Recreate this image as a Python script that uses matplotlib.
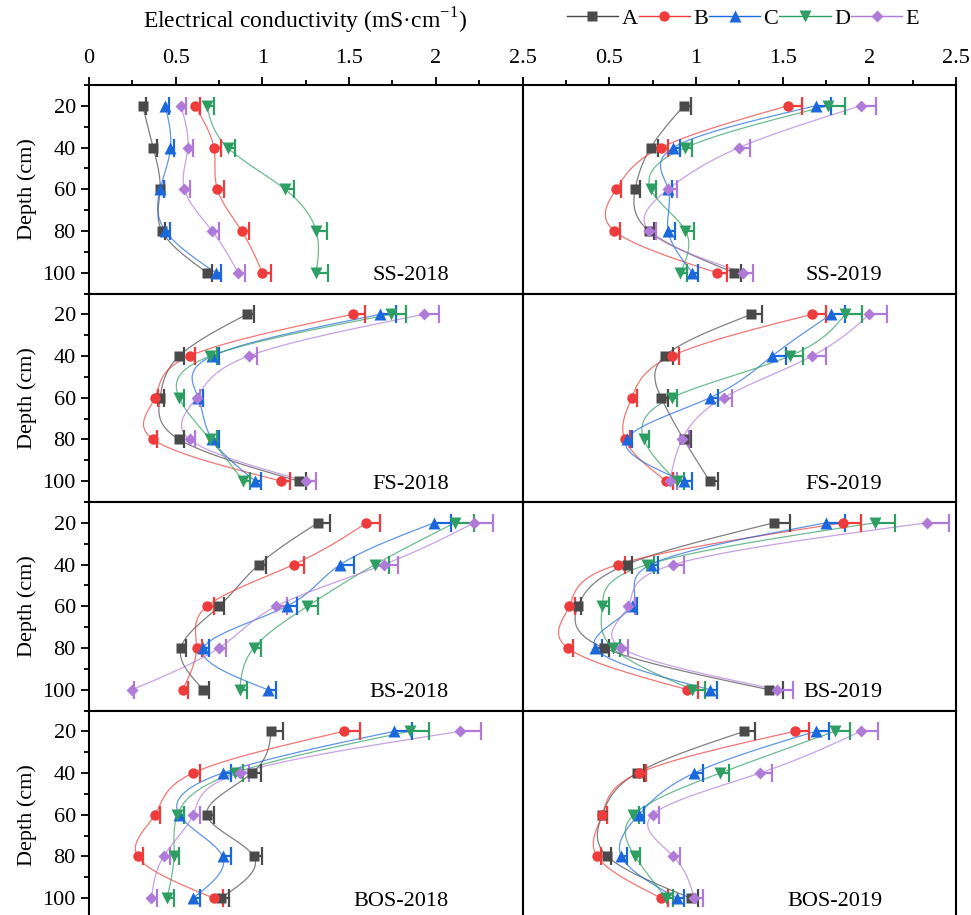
import numpy as np
import matplotlib
matplotlib.use("Agg")
import matplotlib.pyplot as plt
from matplotlib.lines import Line2D
from matplotlib.ticker import MultipleLocator, FixedLocator, FuncFormatter

plt.rcParams['font.family'] = ['Liberation Serif', 'DejaVu Serif']
plt.rcParams['mathtext.fontset'] = 'custom'
plt.rcParams['mathtext.rm'] = 'Liberation Serif'
plt.rcParams['font.size'] = 16

depth = [20, 40, 60, 80, 100]
treatments = ['A', 'B', 'C', 'D', 'E']
colors = ['#4a4a4a', '#ee3b3b', '#1b68dc', '#2f9e63', '#b07ad9']
markers = ['s', 'o', '^', 'v', 'D']
msizes = [7, 7.5, 8, 8, 6.5]

# EC means and SE, one row per treatment (A..E), columns = depth
ss2018 = [[0.31, 0.37, 0.41, 0.42, 0.68],
          [0.61, 0.72, 0.74, 0.88, 1.00],
          [0.44, 0.47, 0.41, 0.44, 0.73],
          [0.68, 0.80, 1.13, 1.31, 1.31],
          [0.53, 0.57, 0.55, 0.71, 0.86]]
ss2018_se = [[0.02, 0.02, 0.02, 0.02, 0.03],
             [0.03, 0.04, 0.04, 0.04, 0.05],
             [0.02, 0.02, 0.02, 0.03, 0.03],
             [0.04, 0.04, 0.05, 0.06, 0.07],
             [0.03, 0.03, 0.03, 0.04, 0.04]]

ss2019 = [[0.93, 0.74, 0.65, 0.73, 1.22],
          [1.53, 0.80, 0.54, 0.53, 1.12],
          [1.69, 0.87, 0.84, 0.84, 0.98],
          [1.76, 0.94, 0.74, 0.94, 0.91],
          [1.95, 1.25, 0.84, 0.73, 1.27]]
ss2019_se = [[0.04, 0.04, 0.03, 0.03, 0.04],
             [0.08, 0.04, 0.03, 0.03, 0.06],
             [0.09, 0.04, 0.02, 0.04, 0.03],
             [0.10, 0.04, 0.03, 0.05, 0.04],
             [0.09, 0.06, 0.05, 0.04, 0.06]]

fs2018 = [[0.91, 0.52, 0.41, 0.52, 1.21],
          [1.52, 0.58, 0.38, 0.37, 1.11],
          [1.68, 0.71, 0.63, 0.71, 0.96],
          [1.74, 0.70, 0.52, 0.70, 0.89],
          [1.93, 0.92, 0.62, 0.58, 1.25]]
fs2018_se = [[0.04, 0.03, 0.02, 0.03, 0.04],
             [0.07, 0.03, 0.02, 0.02, 0.05],
             [0.09, 0.04, 0.03, 0.04, 0.03],
             [0.09, 0.04, 0.03, 0.04, 0.04],
             [0.09, 0.05, 0.02, 0.03, 0.06]]

fs2019 = [[1.32, 0.82, 0.80, 0.93, 1.08],
          [1.67, 0.86, 0.63, 0.59, 0.83],
          [1.78, 1.44, 1.08, 0.60, 0.93],
          [1.86, 1.54, 0.86, 0.70, 0.89],
          [2.00, 1.67, 1.16, 0.92, 0.85]]
fs2019_se = [[0.06, 0.05, 0.04, 0.04, 0.05],
             [0.08, 0.04, 0.03, 0.03, 0.04],
             [0.08, 0.08, 0.05, 0.03, 0.05],
             [0.10, 0.08, 0.03, 0.03, 0.04],
             [0.10, 0.08, 0.05, 0.04, 0.04]]

bs2018 = [[1.32, 0.98, 0.75, 0.53, 0.66],
          [1.60, 1.18, 0.68, 0.62, 0.54],
          [1.99, 1.45, 1.14, 0.66, 1.03],
          [2.11, 1.65, 1.26, 0.95, 0.87],
          [2.22, 1.70, 1.08, 0.75, 0.25]]
bs2018_se = [[0.07, 0.04, 0.03, 0.03, 0.03],
             [0.08, 0.06, 0.04, 0.03, 0.03],
             [0.10, 0.08, 0.06, 0.03, 0.05],
             [0.11, 0.08, 0.06, 0.04, 0.04],
             [0.11, 0.08, 0.06, 0.04, 0.01]]

bs2019 = [[1.45, 0.60, 0.32, 0.47, 1.42],
          [1.85, 0.55, 0.27, 0.26, 0.95],
          [1.75, 0.74, 0.63, 0.42, 1.08],
          [2.03, 0.72, 0.46, 0.52, 0.98],
          [2.33, 0.87, 0.61, 0.57, 1.47]]
bs2019_se = [[0.09, 0.03, 0.02, 0.03, 0.08],
             [0.10, 0.04, 0.03, 0.03, 0.06],
             [0.11, 0.04, 0.03, 0.04, 0.04],
             [0.12, 0.04, 0.04, 0.04, 0.07],
             [0.13, 0.06, 0.04, 0.04, 0.09]]

bos2018 = [[1.05, 0.94, 0.68, 0.95, 0.76],
           [1.47, 0.60, 0.38, 0.28, 0.72],
           [1.76, 0.77, 0.52, 0.77, 0.60],
           [1.85, 0.84, 0.51, 0.49, 0.45],
           [2.14, 0.87, 0.60, 0.43, 0.36]]
bos2018_se = [[0.07, 0.05, 0.04, 0.05, 0.05],
              [0.09, 0.04, 0.03, 0.03, 0.05],
              [0.10, 0.05, 0.03, 0.05, 0.04],
              [0.11, 0.05, 0.04, 0.03, 0.04],
              [0.12, 0.05, 0.04, 0.04, 0.03]]

bos2019 = [[1.28, 0.66, 0.46, 0.49, 0.97],
           [1.57, 0.67, 0.46, 0.43, 0.80],
           [1.69, 0.99, 0.67, 0.57, 0.89],
           [1.80, 1.14, 0.64, 0.65, 0.83],
           [1.95, 1.37, 0.75, 0.87, 0.99]]
bos2019_se = [[0.06, 0.04, 0.03, 0.02, 0.04],
              [0.08, 0.04, 0.03, 0.02, 0.04],
              [0.08, 0.05, 0.03, 0.03, 0.04],
              [0.09, 0.05, 0.03, 0.03, 0.04],
              [0.10, 0.07, 0.04, 0.04, 0.05]]

panels = [('SS-2018', ss2018, ss2018_se), ('SS-2019', ss2019, ss2019_se),
          ('FS-2018', fs2018, fs2018_se), ('FS-2019', fs2019, fs2019_se),
          ('BS-2018', bs2018, bs2018_se), ('BS-2019', bs2019, bs2019_se),
          ('BOS-2018', bos2018, bos2018_se), ('BOS-2019', bos2019, bos2019_se)]


def natural_spline(t, v, n=80):
    # natural cubic spline of v as a function of t, for the connecting curves
    t = np.asarray(t, float)
    v = np.asarray(v, float)
    k = len(t)
    h = np.diff(t)
    A = np.zeros((k, k))
    r = np.zeros(k)
    A[0, 0] = A[-1, -1] = 1
    for i in range(1, k - 1):
        A[i, i - 1] = h[i - 1]
        A[i, i] = 2 * (h[i - 1] + h[i])
        A[i, i + 1] = h[i]
        r[i] = 6 * ((v[i + 1] - v[i]) / h[i] - (v[i] - v[i - 1]) / h[i - 1])
    m = np.linalg.solve(A, r)
    tt = np.linspace(t[0], t[-1], n)
    idx = np.clip(np.searchsorted(t, tt) - 1, 0, k - 2)
    t0, t1 = t[idx], t[idx + 1]
    hh = t1 - t0
    a = (t1 - tt) / hh
    b = (tt - t0) / hh
    vv = a * v[idx] + b * v[idx + 1] + ((a**3 - a) * m[idx] + (b**3 - b) * m[idx + 1]) * hh**2 / 6
    return tt, vv


fig = plt.figure(figsize=(9.71, 9.15), dpi=100)
gs = fig.add_gridspec(4, 2, left=89 / 971, right=956 / 971, top=1 - 85 / 915,
                      bottom=1 - 919 / 915, hspace=0, wspace=0)

for p, (name, means, ses) in enumerate(panels):
    row, col = divmod(p, 2)
    ax = fig.add_subplot(gs[row, col])
    for j in range(5):
        x = np.array(means[j])
        e = np.array(ses[j])
        ys, xs = natural_spline(depth, x)
        ax.plot(xs, ys, color=colors[j], lw=0.9, alpha=0.7, zorder=2)
        # one-sided (positive) error bars: hide the cap at the mean
        eb = ax.errorbar(x, depth, xerr=[np.zeros(5), e], fmt='none', ecolor=colors[j],
                         elinewidth=1.6, capsize=6.5, capthick=1.6, zorder=3)
        eb[1][0].set_visible(False)
        ax.plot(x, depth, ls='none', marker=markers[j], ms=msizes[j],
                color=colors[j], mec='none', zorder=4)

    ax.set_xlim(0, 2.5)
    ax.set_ylim(110, 10)
    for s in ax.spines.values():
        s.set_linewidth(1.5)
    ax.xaxis.set_major_locator(MultipleLocator(0.5))
    ax.xaxis.set_minor_locator(MultipleLocator(0.25))
    ax.yaxis.set_major_locator(FixedLocator(depth))
    ax.yaxis.set_minor_locator(FixedLocator([10, 30, 50, 70, 90, 110]))
    ax.tick_params(which='major', direction='out', length=6, width=1.3, labelsize=16)
    ax.tick_params(which='minor', direction='out', length=3.5, width=1.3)

    if row == 0:
        ax.xaxis.tick_top()
        ax.tick_params(axis='x', pad=6)
        if col == 1:
            ax.xaxis.set_major_formatter(FuncFormatter(lambda v, pos: '' if v == 0 else f'{v:g}'))
        else:
            ax.xaxis.set_major_formatter(FuncFormatter(lambda v, pos: f'{v:g}'))
    else:
        ax.tick_params(axis='x', which='both', top=False, bottom=False,
                       labeltop=False, labelbottom=False)

    if col == 0:
        ax.set_ylabel('Depth (cm)', fontsize=16, labelpad=4)
    else:
        ax.tick_params(axis='y', which='both', left=False, labelleft=False)

    ax.text(0.83, 0.04, name, transform=ax.transAxes, ha='right', va='bottom', fontsize=16)

fig.text(305 / 971, 1 - 21 / 915, 'Electrical conductivity (mS·cm$^{\\mathregular{-1}}$)',
         ha='center', va='center', fontsize=17)

handles = [Line2D([0], [0], color=colors[j], lw=1.0, marker=markers[j],
                  ms=msizes[j], mec='none') for j in range(5)]
fig.legend(handles, treatments, loc='center', bbox_to_anchor=(743 / 971, 1 - 19 / 915),
           ncol=5, frameon=False, handlelength=2.3, handletextpad=0.15,
           columnspacing=0.05, fontsize=16)

fig.savefig('out.png', dpi=100)
